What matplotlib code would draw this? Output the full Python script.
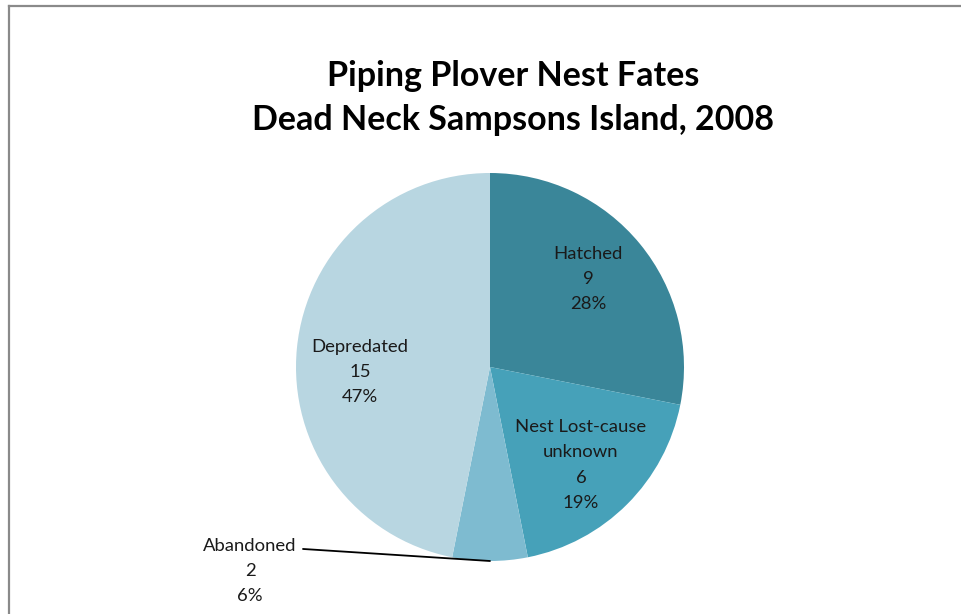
import numpy as np
import matplotlib.pyplot as plt
from matplotlib.lines import Line2D

labels = ["Hatched", "Nest Lost-cause\nunknown", "Abandoned", "Depredated"]
counts = [9, 6, 2, 15]
colors = ["#3A8699", "#46A1B9", "#7EBBD0", "#B8D6E1"]

W, H = 961, 614
fig = plt.figure(figsize=(W / 100, H / 100), dpi=100)
fig.patch.set_facecolor("white")

# chart frame (only top and left edges fall inside the image)
fig.add_artist(Line2D([8.5 / W, 8.5 / W], [0, 1 - 6 / H], color="#8a8a8a", lw=1.6))
fig.add_artist(Line2D([8.5 / W, 1], [1 - 6 / H, 1 - 6 / H], color="#8a8a8a", lw=1.6))

# pie axes: centre at (490, 367) px, radius 194 px
cx, cy, r = 490, 367, 194
ax = fig.add_axes([(cx - r) / W, (H - cy - r) / H, 2 * r / W, 2 * r / H])

wedges, _ = ax.pie(counts, colors=colors, startangle=90, counterclock=False,
                   radius=1, wedgeprops=dict(linewidth=0))
ax.set_xlim(-1, 1)
ax.set_ylim(-1, 1)
ax.axis("off")

# data label centres, in pie radius units
label_pos = [(0.505, 0.454), (0.469, -0.505), (-1.237, -1.052), (-0.670, -0.026)]

total = sum(counts)
font = dict(family="Lato", fontsize=13.3, color="#1a1a1a")
for lab, n, (tx, ty) in zip(labels, counts, label_pos):
    text = f"{lab}\n{n}\n{round(100 * n / total)}%"
    ax.text(tx, ty, text, ha="center", va="center", linespacing=1.72,
            clip_on=False, **font)

# leader line from the Abandoned label to the edge of its slice
ab = wedges[2]
mid = np.deg2rad((ab.theta1 + ab.theta2) / 2)
ax.annotate("", xy=(np.cos(mid), np.sin(mid)), xytext=(-0.964, -0.938),
            arrowprops=dict(arrowstyle="-", color="black", lw=1.3,
                            shrinkA=0, shrinkB=0),
            annotation_clip=False)

fig.text(513 / W, 1 - 98 / H, "Piping Plover Nest Fates\nDead Neck Sampsons Island, 2008",
         ha="center", va="center", family="Lato", fontweight="bold", fontsize=24.5,
         linespacing=1.45, color="black")

fig.savefig("out.png", dpi=100, facecolor="white")
